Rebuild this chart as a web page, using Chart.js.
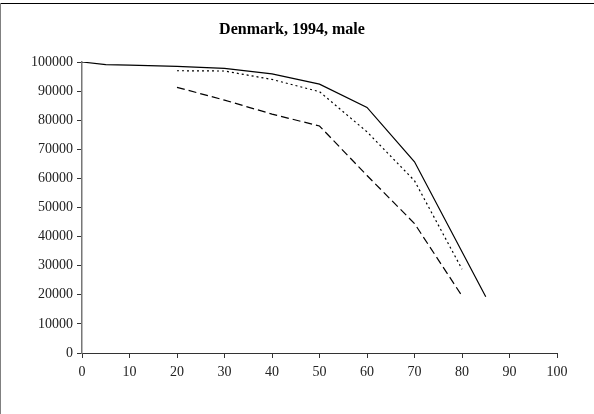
<!DOCTYPE html>
<html>
<head>
<meta charset="utf-8">
<script src="https://cdn.jsdelivr.net/npm/chart.js@4/dist/chart.umd.min.js"></script>
<style>
  html, body { margin: 0; padding: 0; background: #fff; }
  #wrap { position: absolute; left: 0; top: 0; width: 594px; height: 414px; }
</style>
</head>
<body>
<div id="wrap"><canvas id="c" width="594" height="414"></canvas></div>
<script>
const titleText = "Denmark, 1994, male";
const agesSolid = [0, 5, 10, 20, 30, 40, 50, 60, 70, 85];
const survSolid = [100000, 99100, 98900, 98500, 97800, 95900, 92400, 84400, 65700, 19300];
const agesOther = [20, 30, 40, 50, 60, 70, 80];
const survDotted = [97000, 96900, 94000, 89800, 76000, 59200, 28800];
const survDashed = [91300, 86900, 82100, 78000, 61000, 44500, 19600];
const xTicks = [0, 10, 20, 30, 40, 50, 60, 70, 80, 90, 100];
const yTicks = [0, 10000, 20000, 30000, 40000, 50000, 60000, 70000, 80000, 90000, 100000];

const toPts = (xs, ys) => xs.map((x, i) => ({ x: x, y: ys[i] }));
const serif = "'Liberation Serif', 'DejaVu Serif', serif";

const framePlugin = {
  id: 'frame',
  beforeDraw(chart) {
    const ctx = chart.ctx;
    ctx.save();
    ctx.fillStyle = '#fff';
    ctx.fillRect(0, 0, chart.width, chart.height);
    ctx.strokeStyle = '#000';
    ctx.lineWidth = 1;
    ctx.beginPath();
    ctx.moveTo(0, 3.5); ctx.lineTo(chart.width, 3.5);
    ctx.stroke();
    ctx.strokeStyle = '#808080';
    ctx.beginPath();
    ctx.moveTo(0.5, 3); ctx.lineTo(0.5, chart.height);
    ctx.stroke();
    ctx.restore();
  }
};

new Chart(document.getElementById('c'), {
  type: 'line',
  data: {
    datasets: [
      { data: toPts(agesSolid, survSolid), borderColor: '#000', borderWidth: 1.2, pointRadius: 0, fill: false, tension: 0 },
      { data: toPts(agesOther, survDotted), borderColor: '#000', borderWidth: 1.2, borderDash: [2, 3], pointRadius: 0, fill: false, tension: 0 },
      { data: toPts(agesOther, survDashed), borderColor: '#000', borderWidth: 1.2, borderDash: [8, 4], pointRadius: 0, fill: false, tension: 0 }
    ]
  },
  plugins: [framePlugin],
  options: {
    responsive: false,
    animation: false,
    devicePixelRatio: 1,
    layout: { padding: { left: 0, right: 10, top: 0, bottom: 0 } },
    plugins: {
      legend: { display: false },
      tooltip: { enabled: false },
      title: {
        display: true,
        text: titleText,
        color: '#000',
        font: { family: serif, size: 16, weight: 'bold', lineHeight: 1.2 },
        padding: { top: 20, bottom: 22.8 }
      }
    },
    scales: {
      x: {
        type: 'linear',
        min: 0, max: 100,
        afterBuildTicks(scale) { scale.ticks = xTicks.map(v => ({ value: v })); },
        afterFit(scale) { scale.height = 61; },
        border: { display: true, color: '#333', width: 1 },
        grid: { display: true, drawOnChartArea: false, drawTicks: true, tickLength: 5, color: '#333' },
        ticks: { color: '#222', font: { family: serif, size: 14 }, padding: 6, maxRotation: 0 }
      },
      y: {
        min: 0, max: 100000,
        afterBuildTicks(scale) { scale.ticks = yTicks.map(v => ({ value: v })); },
        afterFit(scale) { scale.width = 82; },
        border: { display: true, color: '#777', width: 1.5 },
        grid: { display: true, drawOnChartArea: false, drawTicks: true, tickLength: 5, color: '#333' },
        ticks: { color: '#222', font: { family: serif, size: 14 }, padding: 4, callback: v => String(v) }
      },
      yPad: {
        type: 'linear',
        position: 'right',
        display: true,
        min: 0, max: 1,
        afterFit(scale) { scale.width = 27; },
        border: { display: false },
        grid: { display: false },
        ticks: { display: false }
      }
    }
  }
});
</script>
</body>
</html>
